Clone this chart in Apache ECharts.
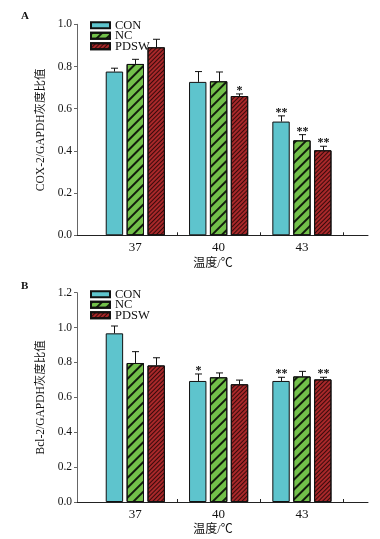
<!DOCTYPE html>
<html>
<head>
<meta charset="utf-8">
<script src="https://cdn.jsdelivr.net/npm/echarts@6/dist/echarts.min.js"></script>
<style>
  html, body { margin: 0; padding: 0; background: #fff; }
  #chart { width: 380px; height: 539px; }
</style>
</head>
<body>
<div id="chart"></div>
<script>
  // 温度 (categories)
  var temps = [37, 40, 43];
  var groups = ['CON', 'NC', 'PDSW'];

  // A: COX-2/GAPDH
  var coxCon = [0.776, 0.727, 0.539];
  var coxNc = [0.812, 0.730, 0.450];
  var coxPdsw = [0.891, 0.660, 0.403];
  var coxConErr = [0.016, 0.049, 0.027];
  var coxNcErr = [0.022, 0.044, 0.027];
  var coxPdswErr = [0.038, 0.010, 0.019];
  var coxConSig = ['', '', '**'];
  var coxNcSig = ['', '', '**'];
  var coxPdswSig = ['', '*', '**'];

  // B: Bcl-2/GAPDH
  var bclCon = [0.967, 0.694, 0.694];
  var bclNc = [0.797, 0.715, 0.720];
  var bclPdsw = [0.783, 0.675, 0.703];
  var bclConErr = [0.042, 0.040, 0.021];
  var bclNcErr = [0.065, 0.025, 0.029];
  var bclPdswErr = [0.044, 0.024, 0.012];
  var bclConSig = ['', '*', '**'];
  var bclNcSig = ['', '', ''];
  var bclPdswSig = ['', '', '**'];

  // 刻度
  var tickBounds = [38.5, 41.5, 44.5];

  var FONT = '"Liberation Serif", "Noto Sans CJK SC", serif';
  var BAR_W = 17.4;
  var colors = ['#5ec4cd', '#72c04a', '#a8282a'];
  var decals = [
    null,
    { symbol: 'rect', symbolSize: 1, color: 'rgba(0,0,0,0.85)', dashArrayX: [1, 0], dashArrayY: [1.3, 5], rotation: -Math.PI / 4 },
    { symbol: 'rect', symbolSize: 1, color: 'rgba(20,0,0,0.75)', dashArrayX: [1, 0], dashArrayY: [1, 1.6], rotation: -Math.PI / 4 }
  ];

  function barSeries(g, gi, vals) {
    var st = { color: colors[gi], borderColor: '#111', borderWidth: 1 };
    if (decals[gi]) st.decal = decals[gi];
    return {
      name: groups[gi],
      type: 'bar',
      xAxisIndex: g, yAxisIndex: g,
      barWidth: BAR_W,
      barGap: '20%',
      itemStyle: st,
      data: temps.map(function (t, i) { return [t, vals[i]]; })
    };
  }

  function errSeries(g, gi, vals, errs, sigs) {
    return {
      type: 'custom',
      xAxisIndex: g, yAxisIndex: g,
      z: 5,
      silent: true,
      data: temps.map(function (t, i) { return [t, vals[i], vals[i] + errs[i]]; }),
      renderItem: function (params, api) {
        var off = (gi - 1) * BAR_W * 1.2;
        var p0 = api.coord([api.value(0), api.value(1)]);
        var p1 = api.coord([api.value(0), api.value(2)]);
        var x = Math.round(p0[0] + off) + 0.5;
        var kids = [
          { type: 'line', shape: { x1: x, y1: p0[1], x2: x, y2: p1[1] }, style: { stroke: '#111', lineWidth: 1 } },
          { type: 'line', shape: { x1: x - 3.5, y1: p1[1], x2: x + 3.5, y2: p1[1] }, style: { stroke: '#111', lineWidth: 1 } }
        ];
        var s = sigs[params.dataIndex];
        if (s) {
          kids.push({
            type: 'text', x: x, y: p1[1] + 3,
            style: { text: s, fill: '#111', font: 'bold 12px ' + FONT, align: 'center', verticalAlign: 'bottom' }
          });
        }
        return { type: 'group', children: kids };
      }
    };
  }

  function xAxisCfg(g, gap) {
    return {
      type: 'value', gridIndex: g,
      min: 34.9, max: 45.38,
      name: '温度/℃', nameLocation: 'middle', nameGap: gap,
      nameTextStyle: { fontFamily: FONT, fontSize: 12, color: '#111', padding: [0, 19, 0, 0] },
      axisLine: { lineStyle: { color: '#222', width: 1 } },
      axisTick: { show: true, inside: true, length: 3, customValues: tickBounds, lineStyle: { color: '#222' } },
      axisLabel: { customValues: temps, margin: 6, fontFamily: FONT, fontSize: 13, color: '#111' },
      splitLine: { show: false }
    };
  }

  function yAxisCfg(g, max, name) {
    return {
      type: 'value', gridIndex: g,
      min: 0, max: max, interval: 0.2,
      name: name, nameLocation: 'middle', nameGap: 29,
      nameTextStyle: { fontFamily: FONT, fontSize: 11.5, color: '#111' },
      axisLine: { show: true, lineStyle: { color: '#666', width: 1 } },
      axisTick: { show: true, length: 3, lineStyle: { color: '#666' } },
      axisLabel: { margin: 5, fontFamily: FONT, fontSize: 11.5, color: '#111',
        formatter: function (v) { return v.toFixed(1); } },
      splitLine: { show: false }
    };
  }

  function legendCfg(top) {
    return {
      data: groups, orient: 'vertical', left: 85, top: top,
      itemWidth: 19, itemHeight: 6, itemGap: -2, itemTextGap: 4,
      icon: 'rect', selectedMode: false,
      textStyle: { fontFamily: FONT, fontSize: 12.5, lineHeight: 10, color: '#111' }
    };
  }

  var chart = echarts.init(document.getElementById('chart'), null, { renderer: 'canvas' });
  chart.setOption({
    backgroundColor: '#fff',
    animation: false,
    title: [
      { text: 'A', left: 16, top: 6, textStyle: { fontFamily: FONT, fontSize: 11, fontWeight: 'bold', color: '#111' } },
      { text: 'B', left: 16, top: 276, textStyle: { fontFamily: FONT, fontSize: 11, fontWeight: 'bold', color: '#111' } }
    ],
    legend: [legendCfg(14), legendCfg(283)],
    grid: [
      { left: 77, right: 12, top: 24.3, height: 211 },
      { left: 77, right: 12, top: 292.7, height: 209.3 }
    ],
    xAxis: [xAxisCfg(0, 23), xAxisCfg(1, 22)],
    yAxis: [yAxisCfg(0, 1.0, 'COX-2/GAPDH灰度比值'), yAxisCfg(1, 1.2, 'Bcl-2/GAPDH灰度比值')],
    series: [
      barSeries(0, 0, coxCon), barSeries(0, 1, coxNc), barSeries(0, 2, coxPdsw),
      errSeries(0, 0, coxCon, coxConErr, coxConSig),
      errSeries(0, 1, coxNc, coxNcErr, coxNcSig),
      errSeries(0, 2, coxPdsw, coxPdswErr, coxPdswSig),
      barSeries(1, 0, bclCon), barSeries(1, 1, bclNc), barSeries(1, 2, bclPdsw),
      errSeries(1, 0, bclCon, bclConErr, bclConSig),
      errSeries(1, 1, bclNc, bclNcErr, bclNcSig),
      errSeries(1, 2, bclPdsw, bclPdswErr, bclPdswSig)
    ]
  });
</script>
</body>
</html>
